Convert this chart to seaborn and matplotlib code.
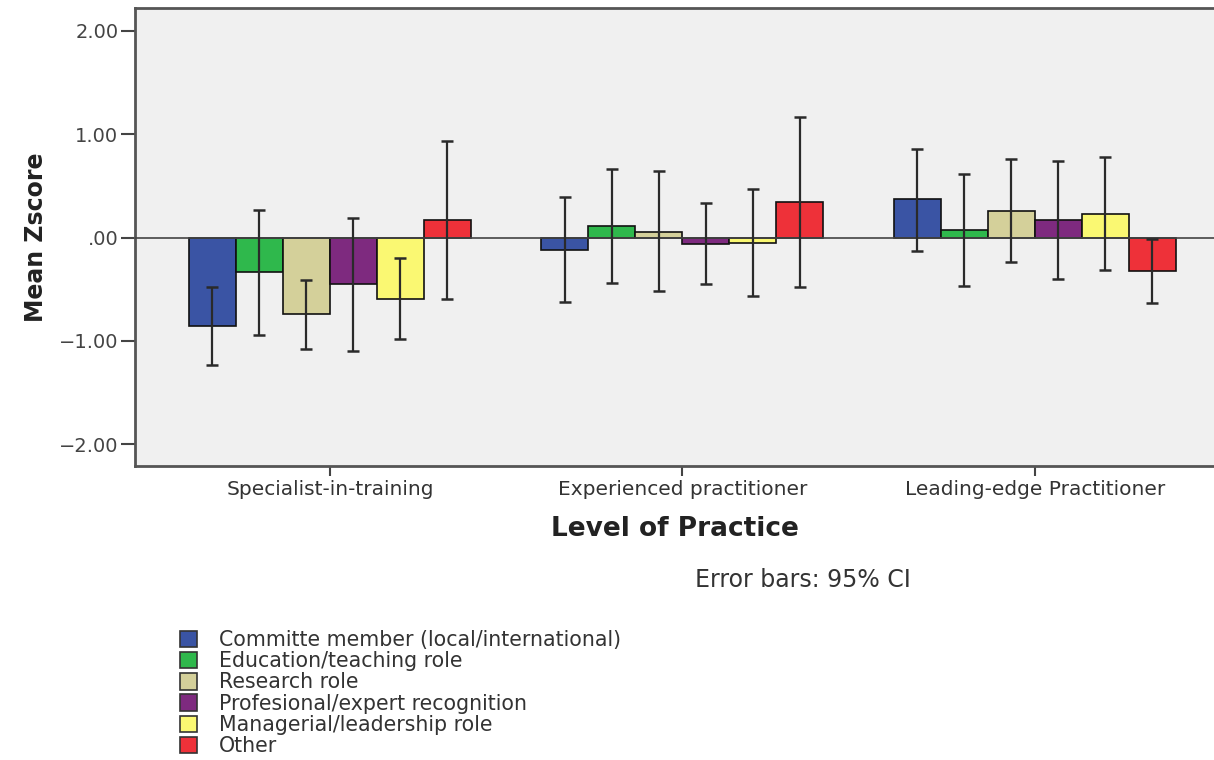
import matplotlib
matplotlib.use("Agg")
import matplotlib.pyplot as plt
import seaborn as sns
import pandas as pd
import numpy as np
from matplotlib.patches import Patch

levels = ["Specialist-in-training", "Experienced practitioner", "Leading-edge Practitioner"]
roles = ["Committe member (local/international)", "Education/teaching role", "Research role",
         "Profesional/expert recognition", "Managerial/leadership role", "Other"]
colors = ["#3a54a4", "#2fb84c", "#d4d09a", "#7e2a7f", "#faf872", "#ee3139"]

means = {
    "Specialist-in-training":    [-0.86, -0.33, -0.74, -0.45, -0.59, 0.17],
    "Experienced practitioner":  [-0.12, 0.11, 0.05, -0.06, -0.05, 0.345],
    "Leading-edge Practitioner": [0.37, 0.07, 0.26, 0.17, 0.23, -0.32],
}
ci_low = {
    "Specialist-in-training":    [-1.23, -0.94, -1.08, -1.10, -0.98, -0.59],
    "Experienced practitioner":  [-0.62, -0.44, -0.52, -0.45, -0.57, -0.48],
    "Leading-edge Practitioner": [-0.13, -0.47, -0.24, -0.40, -0.31, -0.63],
}
ci_high = {
    "Specialist-in-training":    [-0.48, 0.27, -0.41, 0.19, -0.20, 0.93],
    "Experienced practitioner":  [0.39, 0.66, 0.64, 0.33, 0.47, 1.17],
    "Leading-edge Practitioner": [0.86, 0.61, 0.76, 0.74, 0.78, -0.01],
}

rows = []
for lv in levels:
    for i, r in enumerate(roles):
        rows.append({"level": lv, "role": r, "mean": means[lv][i],
                     "lo": ci_low[lv][i], "hi": ci_high[lv][i]})
df = pd.DataFrame(rows)

sns.set_theme(style="white")
plt.rcParams["font.family"] = ["DejaVu Sans"]

fig = plt.figure(figsize=(12.14, 7.6), dpi=100)
ax = fig.add_axes([135/1214, 1 - 466/760, (1214-135)/1214, (466-8)/760])
ax.set_facecolor("#f0f0f0")

sns.barplot(data=df, x="level", y="mean", hue="role", order=levels, hue_order=roles,
            palette=colors, saturation=1, errorbar=None, width=0.8, edgecolor="#111111",
            linewidth=1.2, legend=False, ax=ax)

# error bars from bar patch centres
for j, r in enumerate(roles):
    sub = df[df.role == r].set_index("level").loc[levels]
    cont = ax.containers[j]
    xs = [b.get_x() + b.get_width()/2 for b in cont]
    m = sub["mean"].values
    yerr = np.vstack([m - sub["lo"].values, sub["hi"].values - m])
    ax.errorbar(xs, m, yerr=yerr, fmt="none", ecolor="#2a2a2a", elinewidth=1.6,
                capsize=4.5, capthick=1.8, zorder=5)

ax.axhline(0, color="#444444", lw=1.2, zorder=4)
ax.set_ylim(-2.21, 2.22)
ax.set_xlim(-0.553, 2.508)
ax.set_yticks([2, 1, 0, -1, -2])
ax.set_yticklabels(["2.00", "1.00", ".00", "\u22121.00", "\u22122.00"])
for s in ["top", "left", "bottom"]:
    ax.spines[s].set_visible(True)
    ax.spines[s].set_color("#555555")
    ax.spines[s].set_linewidth(2)
ax.spines["right"].set_visible(False)
ax.tick_params(axis="y", direction="out", length=10, width=1.5, color="#444444",
               labelsize=14, labelcolor="#444444", left=True, pad=2)
ax.tick_params(axis="x", direction="out", length=7, width=1.5, color="#444444",
               labelsize=14.5, labelcolor="#333333", bottom=True, pad=3)
ax.set_xlabel("Level of Practice", fontsize=19, fontweight="bold", color="#222222", labelpad=12)
ax.set_ylabel("Mean Zscore", fontsize=17, fontweight="bold", color="#222222", labelpad=8)

fig.text(695/1214, 1 - 580/760, "Error bars: 95% CI", fontsize=17, color="#333333",
         ha="left", va="center")

handles = [Patch(facecolor=c, edgecolor="#333333", linewidth=1.2) for c in colors]
leg = fig.legend(handles, roles, loc="upper left", bbox_to_anchor=(180/1214, 1 - 630/760),
                 frameon=False, fontsize=14.8, handlelength=0.85, handleheight=0.85,
                 labelspacing=0.06, handletextpad=1.05, borderpad=0, borderaxespad=0)
for t in leg.get_texts():
    t.set_color("#333333")

fig.savefig("out.png", dpi=100, facecolor="white")
